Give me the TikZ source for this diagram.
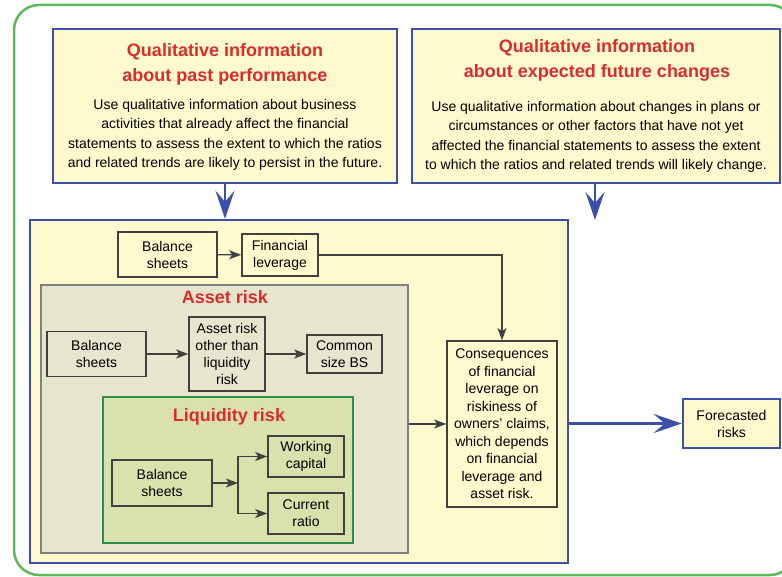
\documentclass[tikz,border=0pt]{standalone}
\usepackage{fontspec}
\setmainfont{Liberation Sans}
\usetikzlibrary{arrows.meta}
\definecolor{infoblue}{RGB}{60,80,170}
\definecolor{paleyellow}{RGB}{255,249,206}
\definecolor{assetfill}{RGB}{231,229,206}
\definecolor{liqfill}{RGB}{219,225,172}
\definecolor{liqgreen}{RGB}{45,140,75}
\definecolor{outergreen}{RGB}{95,185,90}
\definecolor{headred}{RGB}{215,45,45}
\definecolor{boxgray}{RGB}{128,128,128}
\tikzset{
  infobox/.style={draw=infoblue,line width=2.5pt,fill=paleyellow},
  headline/.style={text=headred,font=\fontsize{18}{25}\selectfont\bfseries,align=center},
  bodytext/.style={font=\fontsize{14}{19.5}\selectfont,align=center},
  stepbox/.style={draw=black!75,line width=1.6pt,align=center,inner sep=0pt,font=\fontsize{14}{17}\selectfont},
  flow/.style={-{Stealth[length=12pt,width=9pt,inset=3pt]},black!75,line width=1.3pt},
  bigflow/.style={-{Stealth[length=28pt,width=19pt,inset=11pt]},infoblue,line width=2.5pt}
}
\begin{document}
\begin{tikzpicture}[x=1pt,y=-1pt]
        \useasboundingbox (0,0) rectangle (782,577);
        \draw[outergreen,line width=2.5pt,rounded corners=25pt] (14,5) rectangle (795,575);
        % qualitative information
        \node[infobox,minimum width=344pt,minimum height=154pt] (past) at (225,106) {};
        \node[headline] (pasttitle) at (225,64.5) {Qualitative information\\about past performance};
        \node[bodytext] (pastbody) at (225,135) {Use qualitative information about business\\activities that already affect the financial\\statements to assess the extent to which the ratios\\and related trends are likely to persist in the future.};
        \node[infobox,minimum width=368pt,minimum height=154pt] (future) at (596,106) {};
        \node[headline] (futuretitle) at (597,60.5) {Qualitative information\\about expected future changes};
        \node[bodytext] (futurebody) at (596,137) {Use qualitative information about changes in plans or\\circumstances or other factors that have not yet\\affected the financial statements to assess the extent\\to which the ratios and related trends will likely change.};
        % analysis
        \node[infobox,minimum width=538pt,minimum height=343pt] (analysis) at (299,391.5) {};
        \node[draw=boxgray,line width=2pt,fill=assetfill,minimum width=367pt,minimum height=268pt] (asset) at (224.5,419) {};
        \node[headline] (assettitle) at (225,297) {Asset risk};
        \node[draw=liqgreen,line width=2pt,fill=liqfill,minimum width=250pt,minimum height=146pt] (liquidity) at (228,470) {};
        \node[headline] (liqtitle) at (229,417) {Liquidity risk};
        \node[stepbox,minimum width=99pt,minimum height=45pt] (bs1) at (167.5,254.5) {Balance\\sheets};
        \node[stepbox,minimum width=76pt,minimum height=42pt] (finlev) at (280,255) {Financial\\leverage};
        \node[stepbox,minimum width=99pt,minimum height=45pt] (bs2) at (96.5,354) {Balance\\sheets};
        \node[stepbox,minimum width=76pt,minimum height=74pt] (other) at (227,354) {Asset risk\\other than\\liquidity\\risk};
        \node[stepbox,minimum width=75pt,minimum height=38pt] (common) at (344.5,354) {Common\\size BS};
        \node[stepbox,minimum width=100pt,minimum height=46pt] (bs3) at (162,483) {Balance\\sheets};
        \node[stepbox,minimum width=76pt,minimum height=41pt] (working) at (306,456.5) {Working\\capital};
        \node[stepbox,minimum width=76pt,minimum height=41pt] (current) at (306,513.5) {Current\\ratio};
        \node[stepbox,font=\fontsize{14}{17.5}\selectfont,minimum width=110pt,minimum height=166pt] (conseq) at (502,424) {Consequences\\of financial\\leverage on\\riskiness of\\owners' claims,\\which depends\\on financial\\leverage and\\asset risk.};
        \node[infobox,font=\fontsize{14}{17}\selectfont,align=center,minimum width=97pt,minimum height=49pt] (forecast) at (731.5,423.5) {Forecasted\\risks};
        \coordinate (fork) at (238,483);
        \coordinate (futuretip) at (595,220);
        % connectors
        \draw[bigflow] (past.south) -- (past.south |- analysis.north);
        \draw[bigflow] (future.south -| futuretip) -- (futuretip);
        \draw[flow] (bs1) -- (finlev);
        \draw[flow] (finlev.east) -| (conseq.north);
        \draw[flow] (bs2) -- (other);
        \draw[flow] (other) -- (common);
        \draw[flow] (bs3.east) -- (fork);
        \draw[flow] (fork) |- (working.west);
        \draw[flow] (fork) |- (current.west);
        \draw[flow] (asset.east |- conseq.west) -- (conseq.west);
        \draw[bigflow] (analysis.east |- forecast.west) -- (forecast.west);
      \end{tikzpicture}
\end{document}
